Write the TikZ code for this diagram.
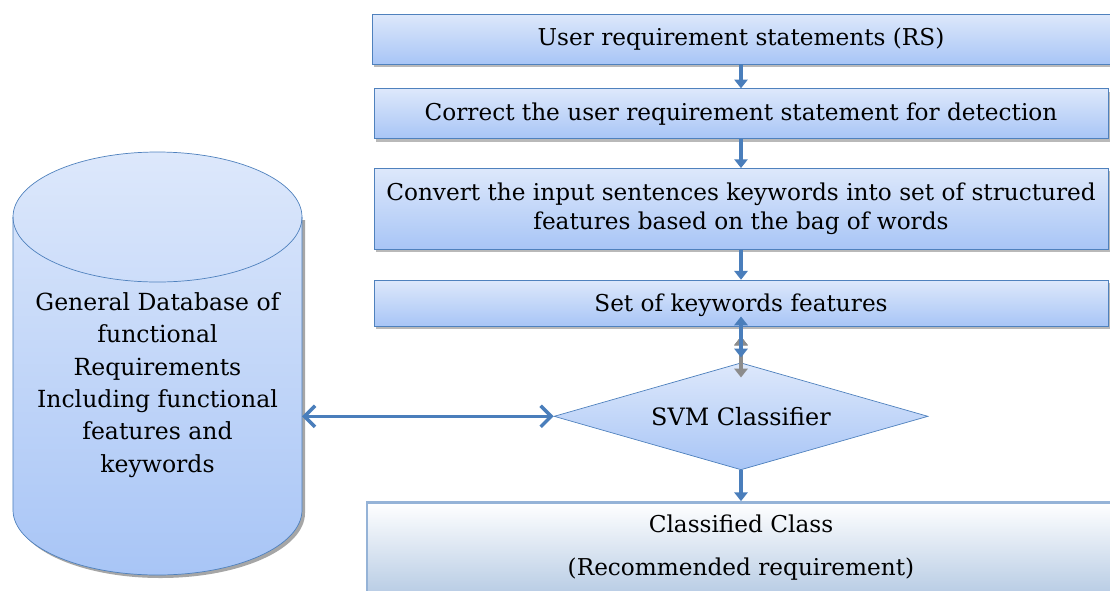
\documentclass[tikz,border=0pt]{standalone}
\usepackage{fontspec}
\setmainfont{DejaVu Serif}
\usepackage{xcolor}
\usepackage{tikz}
\usetikzlibrary{shapes,arrows.meta,calc,positioning,shadows}
\definecolor{boxtop}{HTML}{DDE8FB}
\definecolor{boxbot}{HTML}{A8C5F6}
\definecolor{boxline}{HTML}{4F81BD}
\definecolor{arrowblue}{HTML}{4A7EBB}
\definecolor{clsline}{HTML}{95B3D7}
\definecolor{clsbot}{HTML}{B9CDE5}
\tikzset{
  node distance=0.5cm,
  stepbox/.style={draw=boxline,thin,top color=boxtop,bottom color=boxbot,
    minimum width=14.68cm,align=center,font=\fontsize{13.2}{16.4}\selectfont,
    drop shadow={opacity=0.5,shadow xshift=1.2pt,shadow yshift=-1.6pt,fill=black!55}},
  clsbox/.style={draw=clsline,line width=1.6pt,top color=white,bottom color=clsbot,
    minimum width=14.96cm,minimum height=1.8cm,align=center,font=\fontsize{13.2}{16}\selectfont},
  decision/.style={diamond,draw=boxline,thin,top color=boxtop,bottom color=boxbot,
    minimum width=7.48cm,minimum height=2.14cm,aspect=3.5,inner sep=0pt,
    font=\fontsize{13.6}{15}\selectfont}
}

\begin{document}
\begin{tikzpicture}
          \useasboundingbox (0,0) rectangle (22.2,-11.8);

          % database cylinder
          \fill[black!35] (0.32,-4.40) -- (0.32,-10.26) arc[start angle=180,end angle=360,x radius=2.89,y radius=1.3]
                          -- (6.10,-4.40) -- cycle;
          \shade[top color=boxtop,bottom color=boxbot,draw=boxline,thin]
                (0.26,-4.34) -- (0.26,-10.2) arc[start angle=180,end angle=360,x radius=2.89,y radius=1.3]
                -- (6.04,-4.34) arc[start angle=0,end angle=180,x radius=2.89,y radius=1.3] -- cycle;
          \draw[boxline,thin] (0.26,-4.34) arc[start angle=180,end angle=360,x radius=2.89,y radius=1.3];
          \node[align=center,font=\fontsize{13.4}{18.4}\selectfont] (db) at (3.15,-7.7)
                {General Database of\\functional\\Requirements\\Including functional\\features and\\keywords};
          \path (6.04,0) coordinate (dbx);

          \begin{scope}
              \node[stepbox,minimum width=14.76cm,minimum height=1cm] (rs) at (14.82,-0.78)
                    {User requirement statements (RS)};
              \node[stepbox,minimum height=1cm] (correct) [below=0.48cm of rs]
                    {Correct the user requirement statement for detection};
              \node[stepbox,minimum height=1.62cm] (convert) [below=0.58cm of correct]
                    {Convert the input sentences keywords into set of structured\\features based on the bag of words};
              \node[stepbox,minimum height=0.92cm,text depth=0pt] (kw) [below=0.6cm of convert]
                    {Set of keywords features};
              \node[decision] (svm) [below=0.72cm of kw] {SVM Classifier};
              \node[clsbox] (cls) [below=0.62cm of svm]
                    {Classified Class\\[9pt](Recommended requirement)};
          \end{scope}

          \coordinate (dbside) at (svm.west -| dbx);

          \begin{scope}[>={Triangle[length=5pt,width=7.5pt]},
                        every edge/.style={draw=arrowblue,line width=2pt}]
              \path [->] (rs) edge (correct);
              \path [->] (correct) edge (convert);
              \path [->] (convert) edge (kw);
              \path [<->,draw=black!45,every edge/.style={draw=black!45,line width=2pt}]
                    ($(kw.south)+(0,-0.2)$) edge ($(svm.north)+(0,-0.3)$);
              \path [<->] ($(kw.south)+(0,0.2)$) edge ($(svm.north)+(0,0.1)$);
              \path [->] (svm) edge (cls);
              \path [{Straight Barb[length=6pt,width=12pt]}-{Straight Barb[length=6pt,width=12pt]}]
                    (dbside) edge (svm.west);
          \end{scope}

\end{tikzpicture}
\end{document}
